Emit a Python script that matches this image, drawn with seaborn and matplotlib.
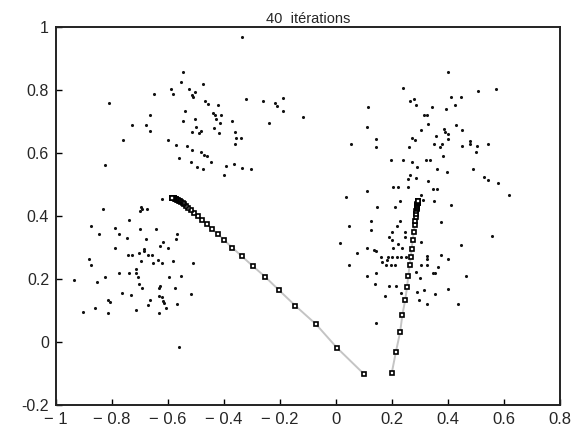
import matplotlib
matplotlib.use("Agg")
import matplotlib.pyplot as plt
import seaborn as sns

# nuage de points (trois groupes)
ul_x = [-0.336, -0.546, -0.555, -0.474, -0.588, -0.582, -0.525, -0.505, -0.514, -0.512,
        -0.650, -0.811, -0.468, -0.457, -0.422, -0.320, -0.262, -0.218, -0.211, -0.189,
        -0.188, -0.117, -0.664, -0.541, -0.505, -0.439, -0.432, -0.411, -0.240, -0.729,
        -0.680, -0.664, -0.546, -0.428, -0.416, -0.372, -0.500, -0.514, -0.482, -0.488,
        -0.434, -0.417, -0.361, -0.358, -0.340, -0.759, -0.599, -0.570, -0.533, -0.361,
        -0.514, -0.483, -0.472, -0.459, -0.561, -0.518, -0.445, -0.393, -0.363, -0.496,
        -0.475, -0.334, -0.305, -0.400, -0.825]
ul_y = [0.967, 0.856, 0.825, 0.819, 0.802, 0.788, 0.802, 0.795, 0.785, 0.777,
        0.788, 0.758, 0.764, 0.756, 0.751, 0.770, 0.764, 0.758, 0.749, 0.776,
        0.732, 0.714, 0.720, 0.733, 0.709, 0.726, 0.720, 0.721, 0.695, 0.690,
        0.690, 0.671, 0.701, 0.707, 0.694, 0.702, 0.684, 0.666, 0.671, 0.665,
        0.679, 0.665, 0.666, 0.649, 0.649, 0.640, 0.640, 0.625, 0.623, 0.628,
        0.608, 0.603, 0.595, 0.592, 0.584, 0.570, 0.570, 0.560, 0.565, 0.554,
        0.548, 0.553, 0.548, 0.529, 0.561]

ll_x = [-0.620, -0.696, -0.693, -0.700, -0.674, -0.832, -0.876, -0.847, -0.788, -0.700,
        -0.642, -0.741, -0.789, -0.775, -0.745, -0.679, -0.618, -0.687, -0.687, -0.629,
        -0.570, -0.568, -0.743, -0.729, -0.705, -0.671, -0.658, -0.636, -0.600, -0.697,
        -0.716, -0.883, -0.876, -0.655, -0.620, -0.583, -0.509, -0.824, -0.776, -0.739,
        -0.713, -0.708, -0.597, -0.553, -0.853, -0.705, -0.693, -0.629, -0.632, -0.574,
        -0.766, -0.632, -0.622, -0.732, -0.518, -0.934, -0.813, -0.807, -0.664, -0.618,
        -0.616, -0.568, -0.672, -0.862, -0.714, -0.607, -0.905, -0.816, -0.633, -0.562]
ll_y = [0.455, 0.429, 0.422, 0.415, 0.422, 0.423, 0.367, 0.343, 0.361, 0.360,
        0.360, 0.386, 0.300, 0.343, 0.331, 0.326, 0.319, 0.296, 0.290, 0.305,
        0.326, 0.342, 0.275, 0.275, 0.284, 0.275, 0.275, 0.261, 0.297, 0.257,
        0.233, 0.265, 0.245, 0.251, 0.251, 0.257, 0.250, 0.206, 0.220, 0.220,
        0.220, 0.207, 0.207, 0.210, 0.190, 0.183, 0.172, 0.179, 0.170, 0.171,
        0.157, 0.146, 0.144, 0.148, 0.152, 0.196, 0.133, 0.126, 0.133, 0.130,
        0.124, 0.121, 0.117, 0.108, 0.103, 0.107, 0.096, 0.092, 0.091, -0.015]

r_x = [0.400, 0.241, 0.266, 0.278, 0.287, 0.116, 0.411, 0.447, 0.507, 0.570,
       0.342, 0.326, 0.316, 0.393, 0.425, 0.330, 0.428, 0.111, 0.305, 0.386,
       0.388, 0.401, 0.449, 0.357, 0.272, 0.283, 0.143, 0.349, 0.378, 0.370,
       0.401, 0.449, 0.479, 0.480, 0.503, 0.543, 0.501, 0.262, 0.053, 0.143,
       0.383, 0.196, 0.241, 0.271, 0.322, 0.337, 0.289, 0.263, 0.361, 0.396,
       0.488, 0.529, 0.543, 0.579, 0.617, 0.258, 0.287, 0.328, 0.205, 0.221,
       0.257, 0.345, 0.361, 0.304, 0.111, 0.037, 0.309, 0.351, 0.409, 0.558,
       0.230, 0.209, 0.145, 0.376, 0.228, 0.126, 0.126, 0.047, 0.218, 0.199,
       0.247, 0.188, 0.199, 0.205, 0.221, 0.236, 0.248, 0.303, 0.016, 0.074,
       0.111, 0.136, 0.143, 0.161, 0.186, 0.201, 0.217, 0.232, 0.249, 0.324,
       0.324, 0.375, 0.400, 0.164, 0.180, 0.195, 0.212, 0.045, 0.182, 0.304,
       0.326, 0.366, 0.347, 0.355, 0.445, 0.143, 0.300, 0.109, 0.287, 0.464,
       0.139, 0.191, 0.214, 0.232, 0.289, 0.316, 0.400, 0.176, 0.355, 0.295,
       0.324, 0.435, 0.142]
r_y = [0.856, 0.806, 0.765, 0.770, 0.751, 0.745, 0.777, 0.777, 0.797, 0.802,
       0.745, 0.720, 0.720, 0.739, 0.751, 0.693, 0.690, 0.683, 0.673, 0.675,
       0.668, 0.660, 0.672, 0.655, 0.648, 0.641, 0.643, 0.630, 0.630, 0.618,
       0.643, 0.623, 0.637, 0.628, 0.623, 0.628, 0.604, 0.620, 0.629, 0.620,
       0.592, 0.578, 0.578, 0.572, 0.578, 0.578, 0.555, 0.529, 0.548, 0.540,
       0.548, 0.523, 0.515, 0.504, 0.467, 0.518, 0.520, 0.510, 0.491, 0.491,
       0.491, 0.486, 0.486, 0.468, 0.478, 0.460, 0.451, 0.448, 0.436, 0.338,
       0.448, 0.430, 0.430, 0.380, 0.384, 0.385, 0.356, 0.369, 0.369, 0.350,
       0.350, 0.332, 0.324, 0.297, 0.311, 0.298, 0.334, 0.316, 0.313, 0.282,
       0.297, 0.292, 0.290, 0.271, 0.271, 0.271, 0.271, 0.271, 0.271, 0.272,
       0.262, 0.275, 0.265, 0.255, 0.243, 0.243, 0.243, 0.243, 0.260, 0.243,
       0.245, 0.239, 0.220, 0.220, 0.307, 0.220, 0.202, 0.208, 0.221, 0.208,
       0.183, 0.178, 0.178, 0.157, 0.159, 0.165, 0.169, 0.147, 0.152, 0.133,
       0.121, 0.121, 0.059]

# trajectoires des deux centres (iterations 0..40)
c1_x = [0.099, 0.003, -0.071, -0.145, -0.203, -0.253, -0.297, -0.336, -0.371, -0.399,
        -0.421, -0.442, -0.461, -0.478, -0.493, -0.506, -0.517, -0.527, -0.535, -0.542,
        -0.548, -0.553, -0.558, -0.562, -0.565, -0.568, -0.571, -0.573, -0.575, -0.577,
        -0.578, -0.579, -0.580, -0.581, -0.582, -0.583, -0.583, -0.584, -0.584, -0.585,
        -0.585]
c1_y = [-0.101, -0.018, 0.056, 0.115, 0.164, 0.207, 0.241, 0.272, 0.300, 0.323,
        0.342, 0.358, 0.374, 0.388, 0.400, 0.410, 0.419, 0.426, 0.432, 0.437,
        0.441, 0.444, 0.447, 0.449, 0.451, 0.452, 0.453, 0.454, 0.455, 0.456,
        0.456, 0.457, 0.457, 0.457, 0.458, 0.458, 0.458, 0.458, 0.458, 0.458,
        0.458]
c2_x = [0.199, 0.214, 0.229, 0.237, 0.247, 0.254, 0.258, 0.263, 0.267, 0.270,
        0.274, 0.278, 0.281, 0.283, 0.285, 0.286, 0.287, 0.288, 0.289, 0.290,
        0.290, 0.291, 0.291, 0.292, 0.292, 0.292, 0.293, 0.293, 0.293, 0.293,
        0.294, 0.294, 0.294, 0.294, 0.294, 0.294, 0.294, 0.294, 0.294, 0.294,
        0.294]
c2_y = [-0.099, -0.031, 0.031, 0.086, 0.133, 0.176, 0.210, 0.243, 0.270, 0.294,
        0.325, 0.350, 0.370, 0.385, 0.397, 0.407, 0.415, 0.421, 0.426, 0.430,
        0.433, 0.436, 0.438, 0.440, 0.441, 0.442, 0.443, 0.444, 0.445, 0.445,
        0.446, 0.446, 0.447, 0.447, 0.447, 0.448, 0.448, 0.448, 0.448, 0.449,
        0.449]

xticks = [-1, -0.8, -0.6, -0.4, -0.2, 0, 0.2, 0.4, 0.6, 0.8]
xtick_labels = ["\u2212 1", "\u2212 0.8", "\u2212 0.6", "\u2212 0.4", "\u2212 0.2",
                "0", "0.2", "0.4", "0.6", "0.8"]
yticks = [-0.2, 0, 0.2, 0.4, 0.6, 0.8, 1]
ytick_labels = ["-0.2", "0", "0.2", "0.4", "0.6", "0.8", "1"]

sns.set_style("white")
plt.rcParams["font.family"] = ["Liberation Sans", "DejaVu Sans"]

fig = plt.figure(figsize=(5.78, 4.33), dpi=100)
ax = fig.add_axes([56 / 578, 1 - 405 / 433, 504 / 578, 378 / 433])

dot_kw = dict(color="#111111", s=5, marker="o", linewidth=0, ax=ax, legend=False)
sns.scatterplot(x=ul_x, y=ul_y, **dot_kw)
sns.scatterplot(x=ll_x, y=ll_y, **dot_kw)
sns.scatterplot(x=r_x, y=r_y, **dot_kw)

traj_kw = dict(sort=False, estimator=None, color="#c4c4c4", linewidth=1.4,
               marker="s", markersize=3.4, markerfacecolor="white",
               markeredgecolor="black", markeredgewidth=1.2, ax=ax, legend=False)
sns.lineplot(x=c1_x, y=c1_y, **traj_kw)
sns.lineplot(x=c2_x, y=c2_y, **traj_kw)

ax.set_xlim(-1, 0.8)
ax.set_ylim(-0.2, 1)
ax.set_xticks(xticks)
ax.set_xticklabels(xtick_labels, fontsize=12)
ax.set_yticks(yticks)
ax.set_yticklabels(ytick_labels, fontsize=11.5)
ax.tick_params(direction="in", length=4, width=1, color="black",
               bottom=True, left=True, top=False, right=False, pad=5)
for s in ax.spines.values():
    s.set_color("#222222")
    s.set_linewidth(1.4)

ax.set_title("40  itérations", fontsize=10.5, pad=3)

plt.savefig("out.png", dpi=100)
